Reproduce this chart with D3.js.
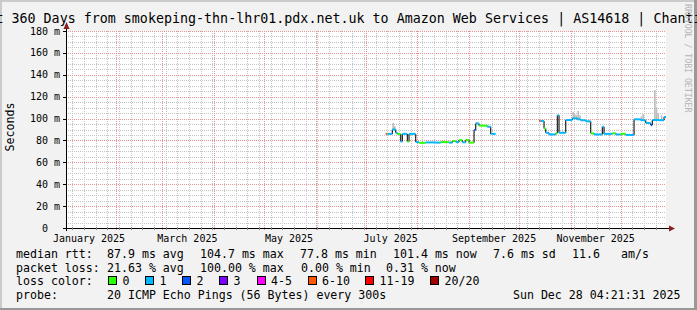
<!DOCTYPE html>
<html>
<head>
<meta charset="utf-8">
<script src="https://cdn.jsdelivr.net/npm/d3@7"></script>
<style>
html, body { margin: 0; padding: 0; background: #f2f2f2; }
svg { display: block; font-family: "DejaVu Sans Mono", monospace; }
text { white-space: pre; }
</style>
</head>
<body>
<div id="chart"></div>
<script>
var TITLE = "Last 360 Days from smokeping-thn-lhr01.pdx.net.uk to Amazon Web Services | AS14618 | Chantilly";
var Y_TITLE = "Seconds";
var WATERMARK = "RRDTOOL / TOBI OETIKER";
var START = "2025-01-02T04:21:31Z";
var END = "2025-12-28T04:21:31Z";

var Y_TICKS = [0, 20, 40, 60, 80, 100, 120, 140, 160, 180];
var X_LABELS = ["January 2025", "March 2025", "May 2025", "July 2025", "September 2025", "November 2025"];
var X_LABEL_MONTHS = ["2025-01-01", "2025-03-01", "2025-05-01", "2025-07-01", "2025-09-01", "2025-11-01"];

// median rtt (ms) per step, null = no data after this point
var DATES = ["2025-07-13","2025-07-14","2025-07-17","2025-07-19","2025-07-20","2025-07-22","2025-07-23","2025-07-26","2025-07-27","2025-07-31",
  "2025-08-02","2025-08-06","2025-08-12","2025-08-15","2025-08-20","2025-08-22","2025-08-24","2025-08-26","2025-08-28","2025-08-30",
  "2025-09-01","2025-09-04","2025-09-05","2025-09-07","2025-09-12","2025-09-14","2025-09-17",
  "2025-10-13","2025-10-14","2025-10-16","2025-10-17","2025-10-19","2025-10-23","2025-10-24","2025-10-25","2025-10-29",
  "2025-11-02","2025-11-05","2025-11-07","2025-11-10","2025-11-13","2025-11-15","2025-11-20","2025-11-21","2025-11-26","2025-11-28",
  "2025-12-01","2025-12-04","2025-12-09","2025-12-13","2025-12-16","2025-12-19","2025-12-20","2025-12-24","2025-12-27","2025-12-28T04:21:31Z"];
var MEDIAN = [86, 86, 90, 87, 86, 79, 86, 79, 86, 78.5,
  77.8, 78.2, 78, 78.5, 78, 79.5, 78.5, 80.3, 78.3, 80.5,
  78, 89.5, 95.5, 93.5, 92.5, 86, null,
  97.8, 97.8, 91, 87, 85.5, 86.5, 103, 87, 98.7,
  100.2, 99.3, 98.5, 97.5, 86.5, 85.5, 92.5, 86, 86.5, 85.5,
  86, 85, 99.3, 98.5, 96, 94, 98.7, 98.5, 101.4, null];
// lost pings out of 20
var LOSS = [8, 1, 1, 1, 0, 1, 1, 0, 1, 1,
  0, 1, 1, 0, 1, 0, 1, 0, 1, 0,
  0, 2, 1, 0, 1, 1, null,
  8, 1, 0, 1, 1, 0, 1, 1, 1,
  1, 1, 1, 1, 0, 1, 1, 1, 0, 1,
  0, 1, 1, 1, 1, 2, 1, 1, 1, null];

// smoke (upper ping rtt) on a few days
var SMOKE_DATES = ["2025-07-17","2025-07-18","2025-09-05","2025-09-06","2025-11-02","2025-11-03","2025-11-04","2025-11-05","2025-11-06",
  "2025-12-13","2025-12-14","2025-12-21","2025-12-22","2025-12-23","2025-12-25"];
var SMOKE_HI = [96, 93, 97, 96, 106, 104, 103, 107, 103, 102, 104, 126, 110, 105, 103];

var LOSS_LABELS = ["0", "1", "2", "3", "4-5", "6-10", "11-19", "20/20"];
var LOSS_COLORS = ["#26ff00", "#00b8ff", "#0059ff", "#7e00ff", "#ff00ff", "#ff5500", "#ff0000", "#a10000"];

var RTT_ROW = ["median rtt:", "87.9 ms avg", "104.7 ms max", "77.8 ms min", "101.4 ms now", "7.6 ms sd", "11.6", "am/s"];
var LOSS_ROW = ["packet loss:", "21.63 % avg", "100.00 % max", "0.00 % min", "0.31 % now"];
var PROBE_ROW = ["probe:", "20 ICMP Echo Pings (56 Bytes) every 300s"];
var STAMP = "Sun Dec 28 04:21:31 2025";

var W = 697, H = 310;
var svg = d3.select("#chart").append("svg").attr("width", W).attr("height", H);

// frame
svg.append("rect").attr("width", W).attr("height", H).attr("fill", "#f2f2f2");
svg.append("rect").attr("x", 0).attr("y", 0).attr("width", W).attr("height", 2).attr("fill", "#cbcbcb");
svg.append("rect").attr("x", 0).attr("y", 0).attr("width", 2).attr("height", H).attr("fill", "#cbcbcb");
svg.append("rect").attr("x", 0).attr("y", H - 2).attr("width", W).attr("height", 2).attr("fill", "#999999");
svg.append("rect").attr("x", W - 3).attr("y", 0).attr("width", 3).attr("height", H).attr("fill", "#999999");

var x = d3.scaleUtc().domain([new Date(START), new Date(END)]).range([66, 666]);
var y = d3.scaleLinear().domain([0, 180]).range([228, 31]);

svg.append("rect").attr("x", 66).attr("y", 31).attr("width", 600).attr("height", 197).attr("fill", "#ffffff");

function px(v) { return Math.round(v) + 0.5; }

var grid = svg.append("g").attr("shape-rendering", "crispEdges").attr("stroke-dasharray", "1,1");

// minor grid
var minorY = d3.range(5, 180, 5).filter(function (v) { return v % 20 !== 0; });
grid.selectAll("line.my").data(minorY).enter().append("line")
  .attr("x1", 66).attr("x2", 666)
  .attr("y1", function (d) { return px(y(d)); }).attr("y2", function (d) { return px(y(d)); })
  .attr("stroke", "#c4c4c4");
var weeks = d3.utcMonday.range(x.domain()[0], x.domain()[1]);
grid.selectAll("line.mx").data(weeks).enter().append("line")
  .attr("x1", function (d) { return px(x(d)); }).attr("x2", function (d) { return px(x(d)); })
  .attr("y1", 31).attr("y2", 228)
  .attr("stroke", "#c4c4c4");

// major grid
grid.selectAll("line.My").data(Y_TICKS.slice(1)).enter().append("line")
  .attr("x1", 66).attr("x2", 666)
  .attr("y1", function (d) { return px(y(d)); }).attr("y2", function (d) { return px(y(d)); })
  .attr("stroke", "#eb9393");
var months = d3.utcMonth.range(x.domain()[0], x.domain()[1]);
grid.selectAll("line.Mx").data(months).enter().append("line")
  .attr("x1", function (d) { return px(x(d)); }).attr("x2", function (d) { return px(x(d)); })
  .attr("y1", 31).attr("y2", 231)
  .attr("stroke", "#eb9393");

// data
var pts = DATES.map(function (d, i) {
  return { t: new Date(d), v: MEDIAN[i], l: LOSS[i] };
});
function medianAt(t) {
  var r = null;
  pts.forEach(function (p) { if (p.t <= t) r = p.v; });
  return r;
}
function lossBin(l) {
  if (l <= 3) return l;
  if (l <= 5) return 4;
  if (l <= 10) return 5;
  if (l < 20) return 6;
  return 7;
}

var smoke = SMOKE_DATES.map(function (d, i) {
  var t = new Date(d);
  return { t: t, hi: SMOKE_HI[i], v: medianAt(t) };
});
svg.append("g").selectAll("rect").data(smoke).enter().append("rect")
  .attr("x", function (d) { return x(d.t); })
  .attr("width", function (d) { return x(d3.utcDay.offset(d.t, 1)) - x(d.t); })
  .attr("y", function (d) { return y(d.hi); })
  .attr("height", function (d) { return y(d.v) - y(d.hi); })
  .attr("fill", "#bdbdbd");

var segs = [], risers = [];
for (var i = 0; i < pts.length - 1; i++) {
  if (pts[i].v == null) continue;
  segs.push({ a: pts[i].t, b: pts[i + 1].t, v: pts[i].v, l: pts[i].l });
  if (pts[i + 1].v != null) risers.push({ t: pts[i + 1].t, v0: pts[i].v, v1: pts[i + 1].v });
}
svg.append("g").selectAll("line").data(risers).enter().append("line")
  .attr("x1", function (d) { return x(d.t); }).attr("x2", function (d) { return x(d.t); })
  .attr("y1", function (d) { return y(d.v0); }).attr("y2", function (d) { return y(d.v1); })
  .attr("stroke", "#222").attr("stroke-width", 1.2);
svg.append("g").selectAll("line").data(segs).enter().append("line")
  .attr("x1", function (d) { return x(d.a); }).attr("x2", function (d) { return x(d.b); })
  .attr("y1", function (d) { return y(d.v); }).attr("y2", function (d) { return y(d.v); })
  .attr("stroke", function (d) { return LOSS_COLORS[lossBin(d.l)]; })
  .attr("stroke-width", 2);

// axes
var ax = svg.append("g").attr("shape-rendering", "crispEdges");
ax.append("line").attr("x1", 63).attr("x2", 670).attr("y1", 228.5).attr("y2", 228.5).attr("stroke", "#000");
ax.append("line").attr("x1", 66.5).attr("x2", 66.5).attr("y1", 231).attr("y2", 27).attr("stroke", "#000");
ax.selectAll("line.yt").data(Y_TICKS).enter().append("line")
  .attr("x1", 63).attr("x2", 66)
  .attr("y1", function (d) { return px(y(d)); }).attr("y2", function (d) { return px(y(d)); })
  .attr("stroke", "#000");
ax.selectAll("line.xt").data(weeks).enter().append("line")
  .attr("x1", function (d) { return px(x(d)); }).attr("x2", function (d) { return px(x(d)); })
  .attr("y1", 227).attr("y2", 230)
  .attr("stroke", "#888");
svg.append("path").attr("d", "M63.5,29 L66.5,22 L69.5,29 Z").attr("fill", "#8e1d1d");
svg.append("path").attr("d", "M669,225.5 L675,228.5 L669,231.5 Z").attr("fill", "#8e1d1d");

// texts
svg.append("text").attr("x", 348.5).attr("y", 22.5).attr("text-anchor", "middle")
  .attr("font-size", "13.33px").text(TITLE);

svg.append("g").selectAll("text").data(Y_TICKS).enter().append("text")
  .attr("x", 60).attr("y", function (d) { return y(d) + 3.5; })
  .attr("text-anchor", "end").attr("font-size", "10px")
  .text(function (d) { return d === 0 ? "0  " : d + " m"; });

svg.append("g").selectAll("text").data(X_LABEL_MONTHS).enter().append("text")
  .attr("x", function (d) { return x(d3.utcDay.offset(new Date(d), 15)); })
  .attr("y", 241.5).attr("text-anchor", "middle").attr("font-size", "10px")
  .text(function (d, i) { return X_LABELS[i]; });

svg.append("text").attr("transform", "translate(14,127) rotate(-90)")
  .attr("text-anchor", "middle").attr("font-size", "11.6px").text(Y_TITLE);

svg.append("text").attr("transform", "translate(684.5,4) rotate(90)")
  .attr("font-size", "8.2px").attr("fill", "#b4b4b4").text(WATERMARK);

var FS = "11.6px";
var rttX = [16, 107, 200, 300, 393, 493, 572, 621];
svg.append("g").selectAll("text").data(RTT_ROW).enter().append("text")
  .attr("x", function (d, i) { return rttX[i]; }).attr("y", 258)
  .attr("font-size", FS).text(function (d) { return d; });
var lossX = [16, 107, 200, 301, 386];
svg.append("g").selectAll("text").data(LOSS_ROW).enter().append("text")
  .attr("x", function (d, i) { return lossX[i]; }).attr("y", 271.5)
  .attr("font-size", FS).text(function (d) { return d; });

svg.append("text").attr("x", 16).attr("y", 285).attr("font-size", FS).text("loss color:");
var boxX = [108, 145, 182, 219, 256.5, 307.5, 365, 430];
var lc = svg.append("g").selectAll("g").data(LOSS_LABELS).enter().append("g");
lc.append("rect")
  .attr("x", function (d, i) { return boxX[i] + 0.5; }).attr("y", 276.5)
  .attr("width", 8).attr("height", 8)
  .attr("fill", function (d, i) { return LOSS_COLORS[i]; })
  .attr("stroke", "#000").attr("stroke-width", 1).attr("shape-rendering", "crispEdges");
lc.append("text")
  .attr("x", function (d, i) { return boxX[i] + 14.5; }).attr("y", 285)
  .attr("font-size", FS).text(function (d) { return d; });

svg.append("text").attr("x", 16).attr("y", 298.5).attr("font-size", FS).text(PROBE_ROW[0]);
svg.append("text").attr("x", 107).attr("y", 298.5).attr("font-size", FS).text(PROBE_ROW[1]);
svg.append("text").attr("x", 680.5).attr("y", 298.5).attr("text-anchor", "end").attr("font-size", FS).text(STAMP);
</script>
</body>
</html>
